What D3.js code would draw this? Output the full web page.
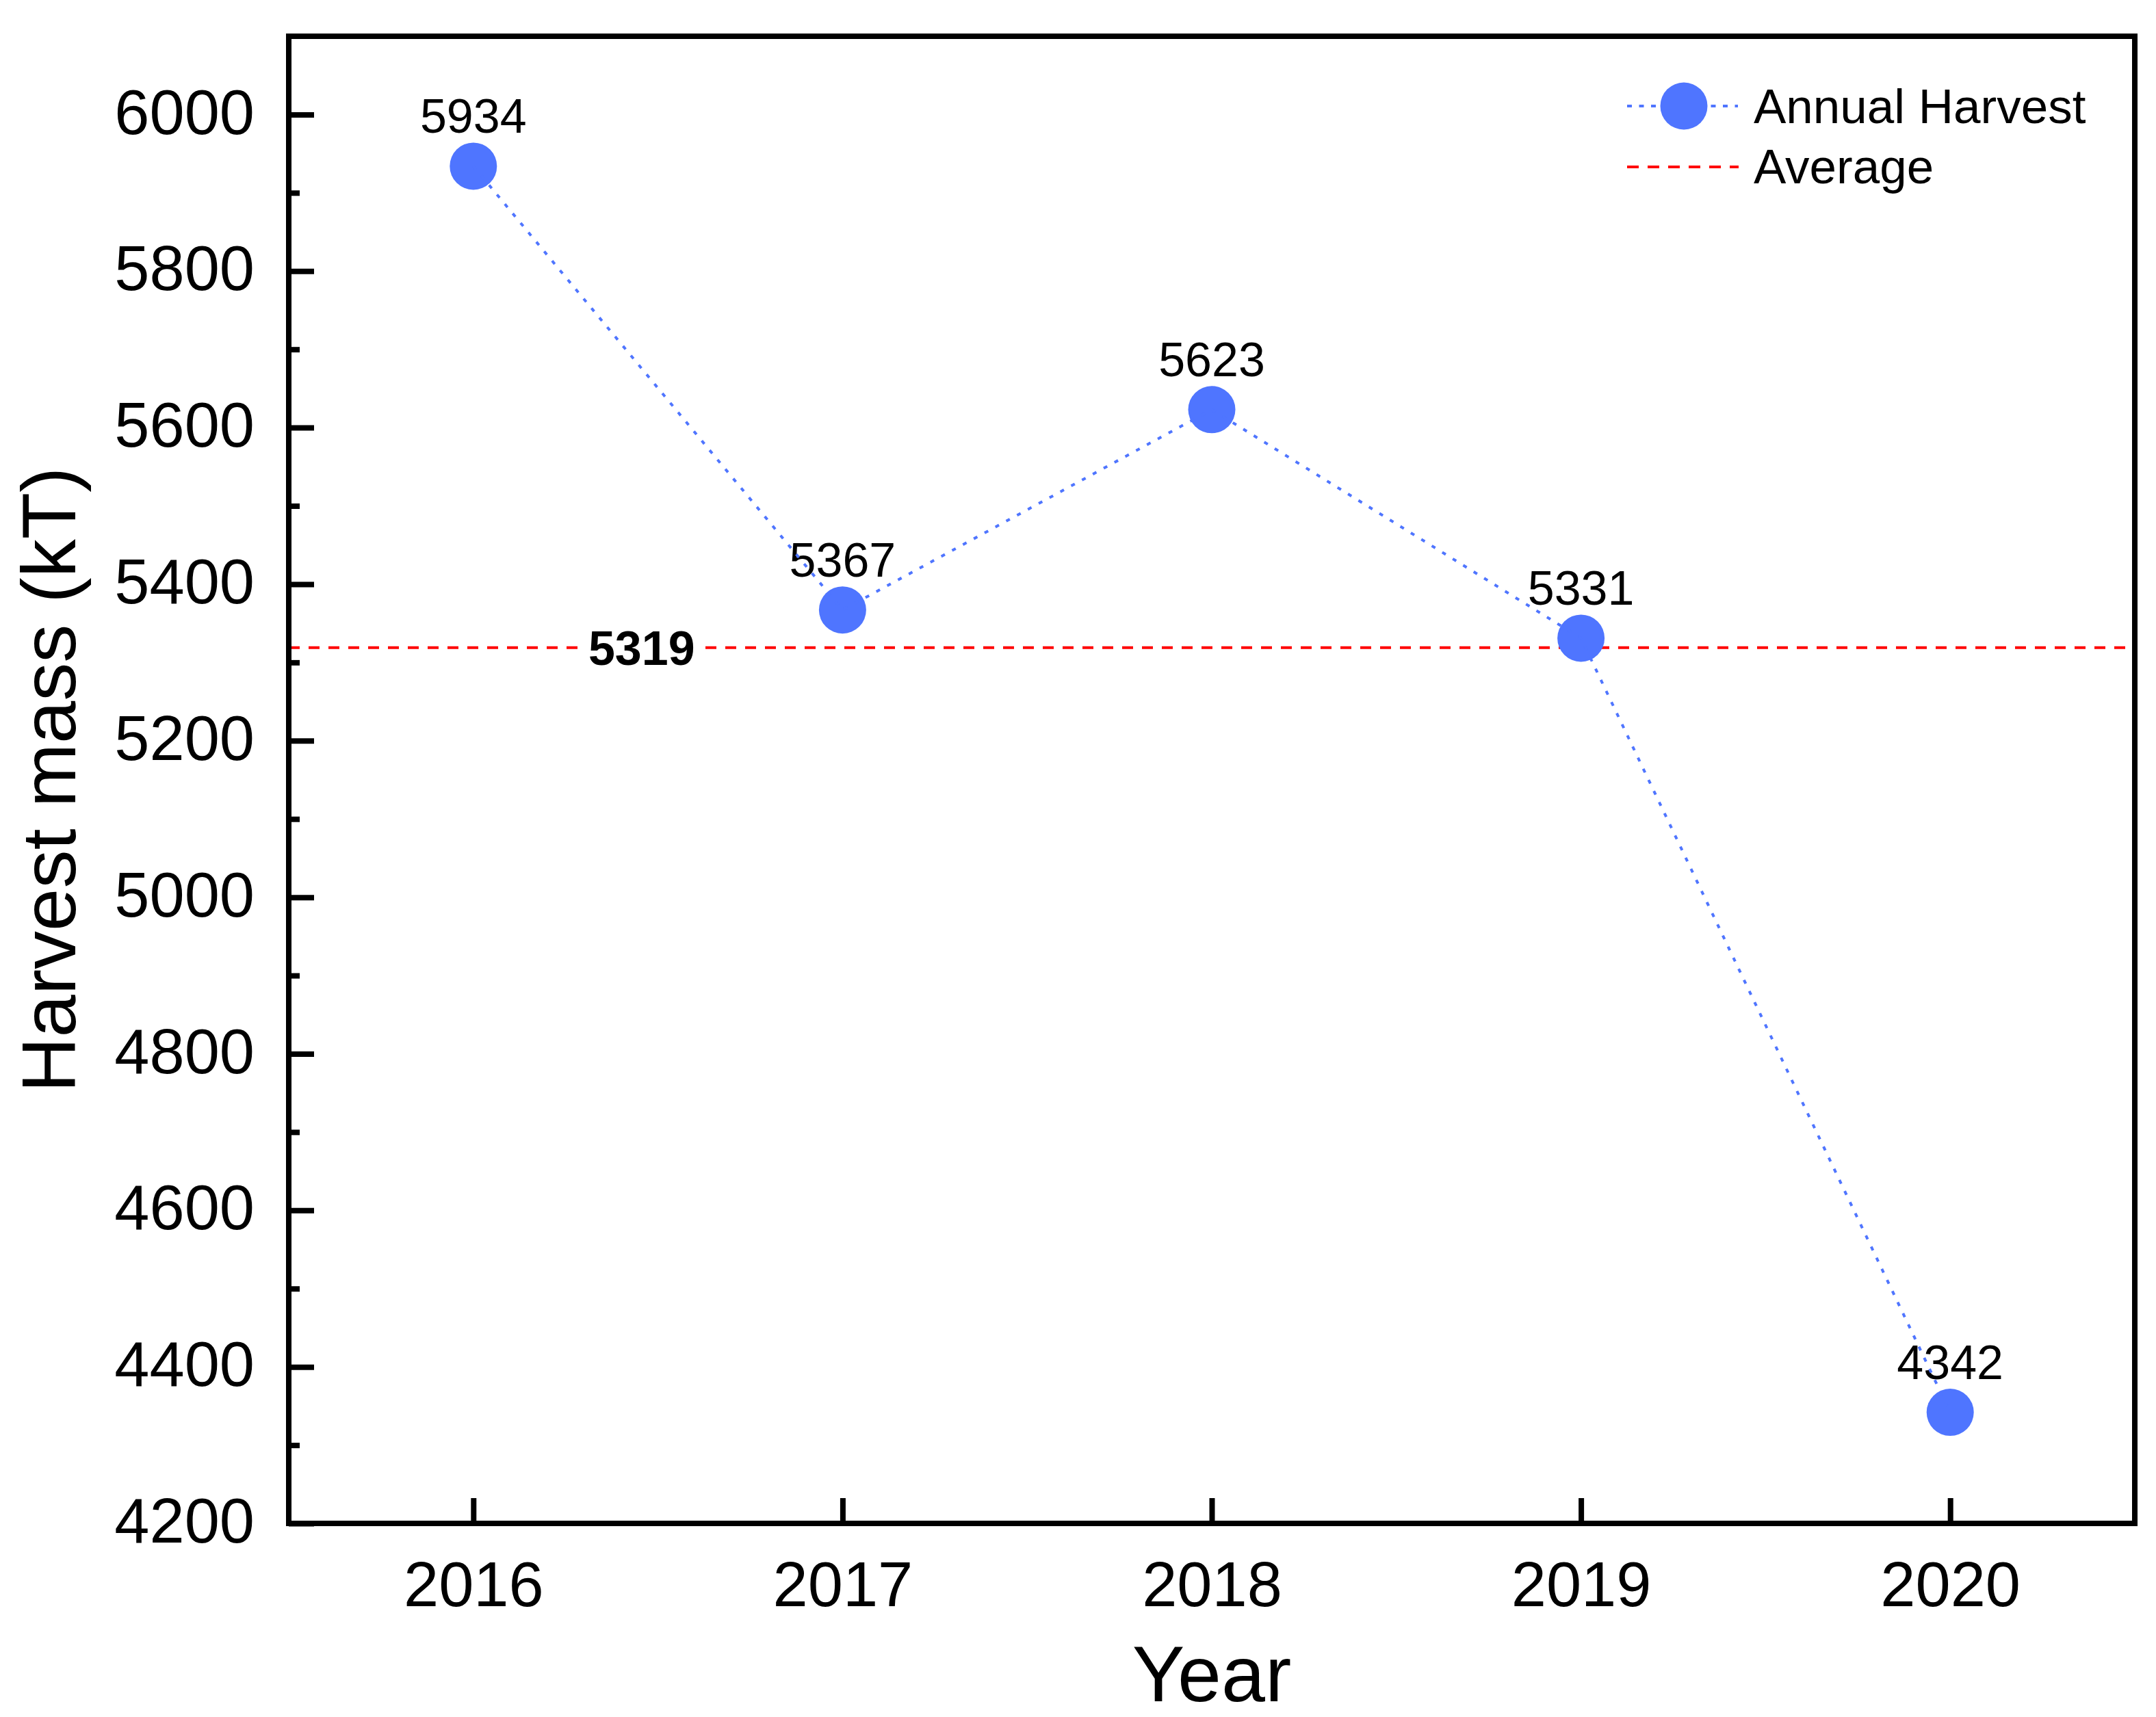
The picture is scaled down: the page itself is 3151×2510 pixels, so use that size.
<!DOCTYPE html>
<html>
<head>
<meta charset="utf-8">
<title>Harvest mass</title>
<script src="https://cdn.jsdelivr.net/npm/d3@7"></script>
<style>
  body { margin: 0; background: #fff; }
  text { font-family: "Liberation Sans", Arial, sans-serif; }
</style>
</head>
<body>
<div id="chart"></div>
<script>
// data
var years = [2016, 2017, 2018, 2019, 2020];
var harvest = [5934, 5367, 5623, 5331, 4342];
var average = 5319;
var yTicks = [4200, 4400, 4600, 4800, 5000, 5200, 5400, 5600, 5800, 6000];
var legendLabels = ["Annual Harvest", "Average"];

var width = 3151, height = 2510;
var plotLeft = 422, plotRight = 3120, plotTop = 53, plotBottom = 2227;
var blue = "#4f75ff";

var svg = d3.select("#chart").append("svg")
    .attr("width", width).attr("height", height);
svg.append("rect").attr("width", width).attr("height", height).attr("fill", "#fff");

var x = d3.scaleLinear().domain([2015.5, 2020.5]).range([plotLeft, plotRight]);
var y = d3.scaleLinear().domain([4200, 6100]).range([plotBottom, plotTop]);

var minor = d3.range(4300, 6100, 200);

// average line
svg.append("line")
    .attr("x1", plotLeft).attr("x2", plotRight)
    .attr("y1", y(average)).attr("y2", y(average))
    .attr("stroke", "#ff0000").attr("stroke-width", 4)
    .attr("stroke-dasharray", "16 13");

// average label with white box
var avgX = x(years[0]) + 246;
svg.append("rect")
    .attr("x", avgX - 89).attr("y", y(average) - 30)
    .attr("width", 178).attr("height", 60)
    .attr("fill", "#fff");
svg.append("text")
    .attr("x", avgX).attr("y", y(average) + 25)
    .attr("text-anchor", "middle")
    .attr("font-size", 70).attr("font-weight", "bold")
    .text(average);

// points
svg.selectAll(".pt").data(harvest).enter().append("circle")
    .attr("class", "pt")
    .attr("cx", function(d, i) { return x(years[i]); })
    .attr("cy", function(d) { return y(d); })
    .attr("r", 34.5)
    .attr("fill", blue);

// value labels
svg.selectAll(".val").data(harvest).enter().append("text")
    .attr("class", "val")
    .attr("x", function(d, i) { return x(years[i]); })
    .attr("y", function(d) { return y(d) - 49; })
    .attr("text-anchor", "middle")
    .attr("font-size", 70)
    .text(function(d) { return d; });

// dotted connecting line
var line = d3.line()
    .x(function(d, i) { return x(years[i]); })
    .y(function(d) { return y(d); });

svg.append("path")
    .datum(harvest)
    .attr("d", line)
    .attr("fill", "none")
    .attr("stroke", blue).attr("stroke-width", 4)
    .attr("stroke-dasharray", "6 12");

// axes (ticks inward)
var yAxis = d3.axisLeft(y).tickValues(yTicks).tickSize(-37).tickPadding(50).tickFormat(d3.format("d"));
var yMinor = d3.axisLeft(y).tickValues(minor).tickSize(-16).tickFormat("");
var xAxis = d3.axisBottom(x).tickValues(years).tickSize(-37).tickPadding(56).tickFormat(d3.format("d"));

var gy = svg.append("g").attr("transform", "translate(" + plotLeft + ",0)").call(yAxis);
var gym = svg.append("g").attr("transform", "translate(" + plotLeft + ",0)").call(yMinor);
var gx = svg.append("g").attr("transform", "translate(0," + plotBottom + ")").call(xAxis);

[gy, gym, gx].forEach(function(g) {
  g.select(".domain").remove();
  g.selectAll(".tick line").attr("stroke", "#000").attr("stroke-width", 8);
  g.selectAll("text").attr("font-size", 92).attr("fill", "#000")
    .attr("font-family", "'Liberation Sans', Arial, sans-serif");
});
gy.selectAll("text").attr("dy", "0.3em");

// frame
svg.append("rect")
    .attr("x", plotLeft).attr("y", plotTop)
    .attr("width", plotRight - plotLeft).attr("height", plotBottom - plotTop)
    .attr("fill", "none").attr("stroke", "#000").attr("stroke-width", 8);

// axis titles
svg.append("text")
    .attr("transform", "translate(110," + (plotTop + plotBottom) / 2 + ") rotate(-90)")
    .attr("text-anchor", "middle")
    .attr("font-size", 112)
    .text("Harvest mass (kT)");

svg.append("text")
    .attr("x", (plotLeft + plotRight) / 2).attr("y", 2487)
    .attr("text-anchor", "middle")
    .attr("font-size", 115)
    .text("Year");

// legend
var lg = svg.append("g").attr("transform", "translate(2378,155)");
lg.append("line").attr("x1", 0).attr("x2", 162).attr("y1", 0).attr("y2", 0)
    .attr("stroke", blue).attr("stroke-width", 4).attr("stroke-dasharray", "7 10.5");
lg.append("circle").attr("cx", 83).attr("cy", 0).attr("r", 34.5).attr("fill", blue);
lg.append("text").attr("x", 185).attr("y", 25).attr("font-size", 71).text(legendLabels[0]);
lg.append("line").attr("x1", 0).attr("x2", 163).attr("y1", 89).attr("y2", 89)
    .attr("stroke", "#ff0000").attr("stroke-width", 4).attr("stroke-dasharray", "17 13");
lg.append("text").attr("x", 185).attr("y", 113).attr("font-size", 71).text(legendLabels[1]);
</script>
</body>
</html>
